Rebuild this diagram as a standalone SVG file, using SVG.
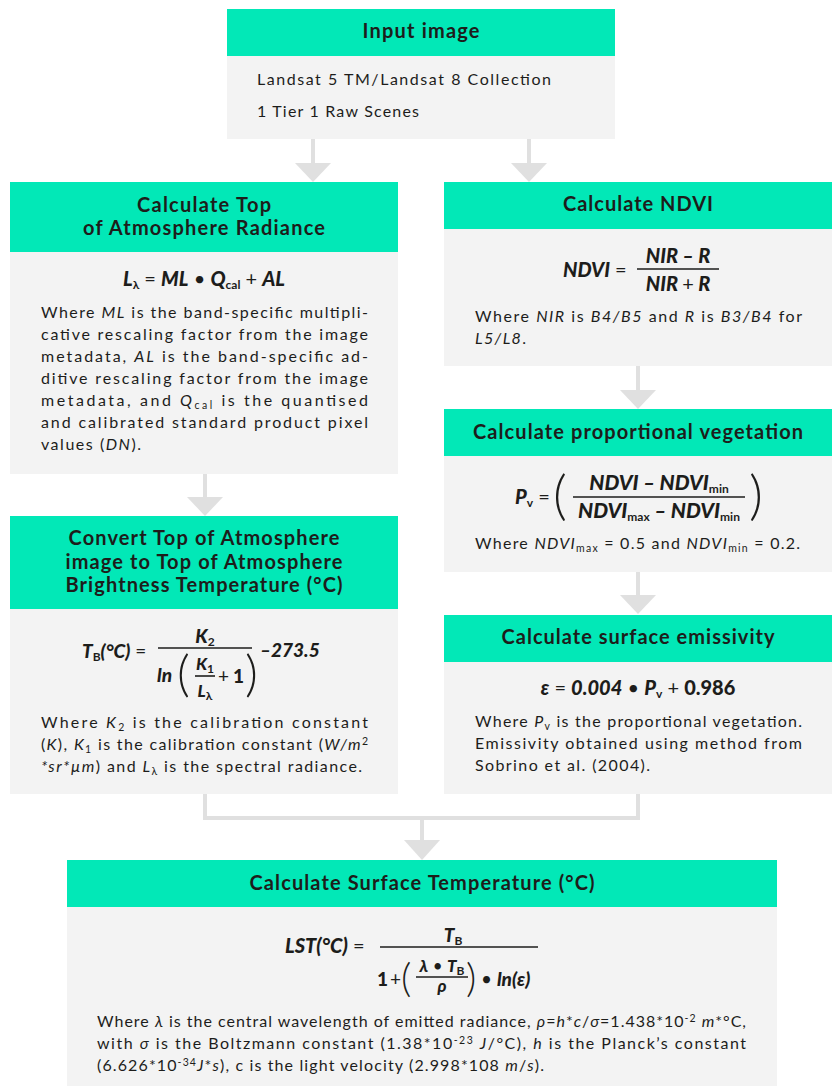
<svg xmlns="http://www.w3.org/2000/svg" width="832" height="1086" viewBox="0 0 832 1086">
<style>
.hd{fill:#02E8B7}
.bd{fill:#F3F3F3}
text{font-family:Lato,"Liberation Sans",sans-serif;fill:#1d1d1b}
.ttl{font-weight:700;font-size:20px;text-anchor:middle}
.body{font-size:16px}
.f{font-weight:900;font-style:italic}
.op{font-weight:400;font-style:normal}
.nb{font-style:normal}
.i{font-style:italic}
.s{font-size:10.5px}
.fs{font-size:12px;font-style:normal;font-weight:700}
.par{font-weight:300;font-style:normal}
.conn{stroke:#E0E0E0;stroke-width:4;fill:none}
.ah{fill:#E0E0E0}
.fl{stroke:#1d1d1b;stroke-width:1.6}
</style>
<rect width="832" height="1086" fill="#ffffff"/>
<g id="connectors">
<line class="conn" x1="313" y1="139" x2="313" y2="165"/>
<polygon class="ah" points="295,163 331,163 313,182"/>
<line class="conn" x1="529" y1="139" x2="529" y2="165"/>
<polygon class="ah" points="511,163 547,163 529,182"/>
<line class="conn" x1="205" y1="474" x2="205" y2="499"/>
<polygon class="ah" points="187,497 223,497 205,516"/>
<line class="conn" x1="638" y1="366" x2="638" y2="392"/>
<polygon class="ah" points="620,390 656,390 638,409"/>
<line class="conn" x1="638" y1="572" x2="638" y2="597"/>
<polygon class="ah" points="620,595 656,595 638,614"/>
<polyline class="conn" points="205,794 205,818 638,818 638,794"/>
<line class="conn" x1="422" y1="818" x2="422" y2="842"/>
<polygon class="ah" points="404,840 440,840 422,860"/>
</g>
<g id="input">
<rect class="hd" x="227" y="9" width="388" height="47"/>
<rect class="bd" x="227" y="56" width="388" height="83"/>
<text class="ttl" x="421" y="38" textLength="117">Input image</text>
<text class="body" x="257" y="85" textLength="294">Landsat 5 TM/Landsat 8 Collection</text>
<text class="body" x="257" y="117" textLength="162">1 Tier 1 Raw Scenes</text>
</g>
<g id="toa">
<rect class="hd" x="10" y="182" width="388" height="70"/>
<rect class="bd" x="10" y="252" width="388" height="222"/>
<text class="ttl" x="204" y="212" textLength="134">Calculate Top</text>
<text class="ttl" x="204" y="235" textLength="242">of Atmosphere Radiance</text>
<text x="204" y="286" text-anchor="middle" font-size="20" class="f">L<tspan class="fs" dy="3">λ</tspan><tspan class="op" dy="-3"> = </tspan>ML<tspan class="op"> • </tspan>Q<tspan class="fs" dy="3">cal</tspan><tspan class="op" dy="-3"> + </tspan>AL</text>
<text class="body" x="41" y="318" textLength="327">Where <tspan class="i">ML</tspan> is the band-specific multipli-</text>
<text class="body" x="41" y="340" textLength="327">cative rescaling factor from the image</text>
<text class="body" x="41" y="362" textLength="327">metadata, <tspan class="i">AL</tspan> is the band-specific ad-</text>
<text class="body" x="41" y="384" textLength="327">ditive rescaling factor from the image</text>
<text class="body" x="41" y="406" textLength="327">metadata, and <tspan class="i">Q</tspan><tspan class="s" dy="3">cal</tspan><tspan dy="-3"> is the quantised</tspan></text>
<text class="body" x="41" y="428" textLength="327">and calibrated standard product pixel</text>
<text class="body" x="41" y="450" textLength="100">values (<tspan class="i">DN</tspan>).</text>
</g>
<g id="brightness">
<rect class="hd" x="10" y="516" width="388" height="93"/>
<rect class="bd" x="10" y="609" width="388" height="185"/>
<text class="ttl" x="204" y="545" textLength="271">Convert Top of Atmosphere</text>
<text class="ttl" x="204" y="569" textLength="277">image to Top of Atmosphere</text>
<text class="ttl" x="204" y="592" textLength="277">Brightness Temperature (°C)</text>
<text x="82" y="658" font-size="19" class="f">T<tspan class="fs" dy="3">B</tspan><tspan dy="-3">(°C)</tspan><tspan class="op"> =</tspan></text>
<line class="fl" x1="158" y1="648" x2="252" y2="648"/>
<text x="205" y="643" font-size="19" class="f" text-anchor="middle">K<tspan class="fs" dy="3">2</tspan></text>
<text x="157" y="682" font-size="19" class="f">ln</text>
<text x="177" y="691" font-size="50" class="par">(</text>
<text x="205" y="670" font-size="17" class="f" text-anchor="middle">K<tspan class="fs" font-size="11" dy="3">1</tspan></text>
<line class="fl" x1="195" y1="676" x2="215" y2="676"/>
<text x="205" y="697" font-size="17" class="f" text-anchor="middle">L<tspan class="fs" font-size="11" dy="3">λ</tspan></text>
<text x="218" y="683" font-size="19" class="op">+</text>
<text x="233" y="683" font-size="19" class="f nb">1</text>
<text x="245" y="691" font-size="50" class="par">)</text>
<text x="260" y="657" font-size="19" class="f">–273.5</text>
<text class="body" x="41" y="728" textLength="327">Where <tspan class="i">K</tspan><tspan class="s" dy="3">2</tspan><tspan dy="-3"> is the calibration constant</tspan></text>
<text class="body" x="41" y="750" textLength="327">(<tspan class="i">K</tspan>), <tspan class="i">K</tspan><tspan class="s" dy="3">1</tspan><tspan dy="-3"> is the calibration constant (</tspan><tspan class="i">W/m</tspan><tspan class="s" dy="-5">2</tspan></text>
<text class="body" x="41" y="772" textLength="321"><tspan class="i">*sr*µm</tspan>) and <tspan class="i">L</tspan><tspan class="s" dy="3">λ</tspan><tspan dy="-3"> is the spectral radiance.</tspan></text>
</g>
<g id="ndvi">
<rect class="hd" x="444" y="182" width="388" height="47"/>
<rect class="bd" x="444" y="229" width="388" height="137"/>
<text class="ttl" x="638" y="211" textLength="150">Calculate NDVI</text>
<text x="563" y="277" font-size="20" class="f">NDVI<tspan class="op"> =</tspan></text>
<line class="fl" x1="637" y1="269" x2="719" y2="269"/>
<text x="678" y="263" font-size="20" class="f" text-anchor="middle">NIR – R</text>
<text x="678" y="291" font-size="20" class="f" text-anchor="middle">NIR <tspan class="op">+</tspan> R</text>
<text class="body" x="475" y="322" textLength="327">Where <tspan class="i">NIR</tspan> is <tspan class="i">B4/B5</tspan> and <tspan class="i">R</tspan> is <tspan class="i">B3/B4</tspan> for</text>
<text class="body" x="475" y="344" textLength="51"><tspan class="i">L5/L8</tspan>.</text>
</g>
<g id="pv">
<rect class="hd" x="444" y="409" width="388" height="47"/>
<rect class="bd" x="444" y="456" width="388" height="116"/>
<text class="ttl" x="638" y="439" textLength="330">Calculate proportional vegetation</text>
<text x="515" y="504" font-size="20" class="f">P<tspan class="fs" dy="3">v</tspan><tspan class="op" dy="-3"> =</tspan></text>
<text x="553" y="514" font-size="54" class="par">(</text>
<text x="659" y="490" font-size="21" class="f" text-anchor="middle">NDVI – NDVI<tspan class="fs" dy="3">min</tspan></text>
<line class="fl" x1="573" y1="497" x2="745" y2="497"/>
<text x="659" y="518" font-size="21" class="f" text-anchor="middle">NDVI<tspan class="fs" dy="3">max</tspan><tspan dy="-3"> – NDVI</tspan><tspan class="fs" dy="3">min</tspan></text>
<text x="749" y="514" font-size="54" class="par">)</text>
<text class="body" x="475" y="549" textLength="325">Where <tspan class="i">NDVI</tspan><tspan class="s" dy="3">max</tspan><tspan dy="-3"> = 0.5 and </tspan><tspan class="i">NDVI</tspan><tspan class="s" dy="3">min</tspan><tspan dy="-3"> = 0.2.</tspan></text>
</g>
<g id="emissivity">
<rect class="hd" x="444" y="615" width="388" height="47"/>
<rect class="bd" x="444" y="662" width="388" height="132"/>
<text class="ttl" x="638" y="644" textLength="273">Calculate surface emissivity</text>
<text x="638" y="695" font-size="20" class="f" text-anchor="middle">ε<tspan class="op"> = </tspan>0.004<tspan class="op"> • </tspan>P<tspan class="fs" dy="3">v</tspan><tspan class="op" dy="-3"> + </tspan><tspan class="nb">0.986</tspan></text>
<text class="body" x="475" y="727" textLength="327">Where <tspan class="i">P</tspan><tspan class="s" dy="3">v</tspan><tspan dy="-3"> is the proportional vegetation.</tspan></text>
<text class="body" x="475" y="749" textLength="327">Emissivity obtained using method from</text>
<text class="body" x="475" y="771" textLength="175">Sobrino et al. (2004).</text>
</g>
<g id="lst">
<rect class="hd" x="67" y="860" width="710" height="47"/>
<rect class="bd" x="67" y="907" width="710" height="179"/>
<text class="ttl" x="422" y="890" textLength="345">Calculate Surface Temperature (°C)</text>
<text x="285" y="953" font-size="20" class="f">LST(°C)<tspan class="op"> =</tspan></text>
<line class="fl" x1="380" y1="947" x2="538" y2="947"/>
<text x="453" y="942" font-size="19" class="f" text-anchor="middle">T<tspan class="fs" dy="3">B</tspan></text>
<text x="377" y="986" font-size="19" class="f nb">1</text>
<text x="390" y="986" font-size="19" class="op">+</text>
<text x="401" y="992" font-size="40" class="par">(</text>
<text x="442" y="972" font-size="17" class="f" text-anchor="middle">λ<tspan class="op"> • </tspan>T<tspan class="fs" font-size="11" dy="3">B</tspan></text>
<line class="fl" x1="416" y1="977" x2="468" y2="977"/>
<text x="442" y="992" font-size="17" class="f" text-anchor="middle">ρ</text>
<text x="466" y="992" font-size="40" class="par">)</text>
<text x="481" y="986" font-size="19" class="f"><tspan class="op">• </tspan>ln(ε)</text>
<text class="body" x="97" y="1027" textLength="649">Where <tspan class="i">λ</tspan> is the central wavelength of emitted radiance, <tspan class="i">ρ</tspan>=<tspan class="i">h</tspan>*<tspan class="i">c</tspan>/<tspan class="i">σ</tspan>=1.438*10<tspan class="s" dy="-5">-2</tspan><tspan dy="5"> </tspan><tspan class="i">m</tspan>*°C,</text>
<text class="body" x="97" y="1049" textLength="649">with <tspan class="i">σ</tspan> is the Boltzmann constant (1.38*10<tspan class="s" dy="-5">-23</tspan><tspan dy="5"> </tspan><tspan class="i">J</tspan>/°C), <tspan class="i">h</tspan> is the Planck’s constant</text>
<text class="body" x="97" y="1071" textLength="447">(6.626*10<tspan class="s" dy="-5">-34</tspan><tspan class="i" dy="5">J</tspan>*<tspan class="i">s</tspan>), c is the light velocity (2.998*108 <tspan class="i">m</tspan>/<tspan class="i">s</tspan>).</text>
</g>
</svg>
